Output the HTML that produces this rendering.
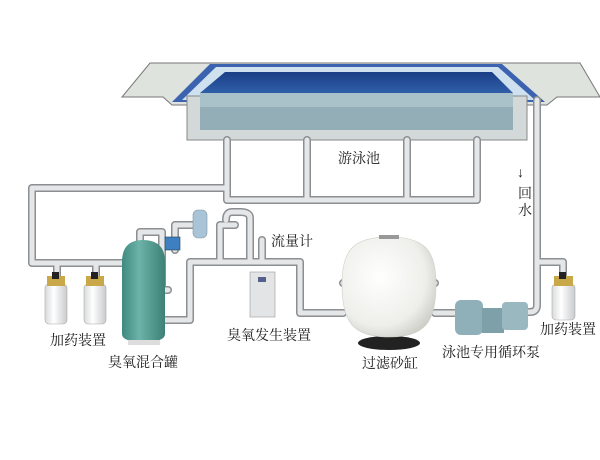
<!DOCTYPE html>
<html><head><meta charset="utf-8"><style>
html,body{margin:0;padding:0;background:#fff;}
svg{display:block}
text{font-family:"Liberation Serif","Noto Serif CJK SC","Noto Sans CJK SC",serif;fill:#1a1a1a;font-size:14px;}
</style></head><body>
<svg width="600" height="460" viewBox="0 0 600 460" xmlns="http://www.w3.org/2000/svg">
<defs>
<linearGradient id="tank" x1="0" x2="1"><stop offset="0" stop-color="#3f8a80"/><stop offset="0.4" stop-color="#6cb3a8"/><stop offset="1" stop-color="#3d8076"/></linearGradient>
<radialGradient id="filt" cx="0.4" cy="0.4" r="0.7"><stop offset="0" stop-color="#ffffff"/><stop offset="0.7" stop-color="#eeeeea"/><stop offset="1" stop-color="#c9cac4"/></radialGradient>
<linearGradient id="water" x1="0" y1="0" x2="0" y2="1"><stop offset="0" stop-color="#1b3f86"/><stop offset="1" stop-color="#2f5fa8"/></linearGradient>
<linearGradient id="cyl" x1="0" x2="1"><stop offset="0" stop-color="#d8dadb"/><stop offset="0.4" stop-color="#ffffff"/><stop offset="1" stop-color="#c8cacc"/></linearGradient>
</defs>
<polygon points="150,63 580,63 600,97 557,97 547,105 172,105 163,97 122,97" fill="#dfe3de" stroke="#777" stroke-width="1"/>
<polygon points="210,64 502,64 545,102 172,102" fill="#3b63b0"/>
<polygon points="216,67 498,67 535,100 182,100" fill="#cfe0ef"/>
<rect x="187" y="96" width="340" height="44" fill="#d3d9d8" stroke="#888" stroke-width="1"/>
<rect x="200" y="93" width="313" height="37" fill="#93aeb7"/>
<rect x="200" y="93" width="313" height="14" fill="#a9c2ca"/>
<polygon points="225,72 492,72 513,93 200,93" fill="url(#water)"/>
<g fill="none" stroke-linejoin="round" stroke-linecap="round">
<g stroke="#8b8f92" stroke-width="8">
<path d="M227,140 V200 H477 V140 M307,140 V200 M407,140 V200"/>
<path d="M227,188 H32 V263 H122"/>
<path d="M57,263 V278 M96,263 V278"/>
<path d="M537,100 V305 Q537,312 530,312 H520 M537,262 H563 V276"/>
<path d="M165,320 H190 V262 H300 V313 H343 M435,313 H457"/>
<path d="M350,313 V283 H343 M428,313 V283 H435"/>
<path d="M220,262 V225 H235 M250,262 V218 Q250,212 240,212 H232 Q226,212 226,220 M262,262 V240"/>
<path d="M140,245 V232 H162 V290 H168 M175,250 V225 H193"/>
</g>
<g stroke="#e4e6e7" stroke-width="5">
<path d="M227,140 V200 H477 V140 M307,140 V200 M407,140 V200"/>
<path d="M227,188 H32 V263 H122"/>
<path d="M57,263 V278 M96,263 V278"/>
<path d="M537,100 V305 Q537,312 530,312 H520 M537,262 H563 V276"/>
<path d="M165,320 H190 V262 H300 V313 H343 M435,313 H457"/>
<path d="M350,313 V283 H343 M428,313 V283 H435"/>
<path d="M220,262 V225 H235 M250,262 V218 Q250,212 240,212 H232 Q226,212 226,220 M262,262 V240"/>
<path d="M140,245 V232 H162 V290 H168 M175,250 V225 H193"/>
</g>
</g>
<g>
<rect x="45" y="284" width="22" height="40" rx="4" fill="url(#cyl)" stroke="#aaa" stroke-width="0.6"/>
<rect x="47" y="276" width="18" height="10" fill="#c9a84a"/><rect x="52" y="272" width="7" height="7" fill="#222"/>
<rect x="84" y="284" width="22" height="40" rx="4" fill="url(#cyl)" stroke="#aaa" stroke-width="0.6"/>
<rect x="86" y="276" width="18" height="10" fill="#c9a84a"/><rect x="91" y="272" width="7" height="7" fill="#222"/>
<rect x="552" y="284" width="23" height="36" rx="4" fill="url(#cyl)" stroke="#aaa" stroke-width="0.6"/>
<rect x="554" y="276" width="19" height="10" fill="#c9a84a"/><rect x="559" y="272" width="7" height="7" fill="#222"/>
</g>
<path d="M122,262 Q122,240 143,240 Q165,240 165,262 V334 Q165,342 143,342 Q122,342 122,334 Z" fill="url(#tank)"/>
<rect x="128" y="340" width="32" height="5" fill="#ddd"/>
<rect x="193" y="210" width="14" height="28" rx="5" fill="#a9c4d6" stroke="#7f97a6" stroke-width="0.6"/>
<rect x="165" y="237" width="15" height="13" fill="#3d7fc0" stroke="#245" stroke-width="0.6"/>
<rect x="250" y="272" width="25" height="45" fill="#e3e4e6" stroke="#999" stroke-width="0.6"/>
<rect x="258" y="277" width="8" height="5" fill="#55608a"/>
<ellipse cx="389" cy="343" rx="31" ry="7" fill="#222"/>
<path d="M389,237 C425,237 436,250 436,285 C436,322 425,337 389,337 C353,337 342,322 342,285 C342,250 353,237 389,237 Z" fill="url(#filt)" stroke="#cfd0cb" stroke-width="0.6"/>
<rect x="379" y="235" width="20" height="4" fill="#999"/>
<rect x="455" y="300" width="28" height="35" rx="6" fill="#8fb0b8"/>
<rect x="482" y="308" width="22" height="25" fill="#7ea0a8"/>
<rect x="502" y="302" width="26" height="28" rx="4" fill="#9ab8bf"/>
<text x="338" y="163">游泳池</text>
<text x="517" y="177" font-size="10">↓</text>
<text x="518" y="198">回</text>
<text x="518" y="215">水</text>
<text x="50" y="345">加药装置</text>
<text x="108" y="367">臭氧混合罐</text>
<text x="227" y="340">臭氧发生装置</text>
<text x="271" y="246">流量计</text>
<text x="362" y="368">过滤砂缸</text>
<text x="442" y="357">泳池专用循环泵</text>
<text x="540" y="334">加药装置</text>
</svg>
</body></html>
